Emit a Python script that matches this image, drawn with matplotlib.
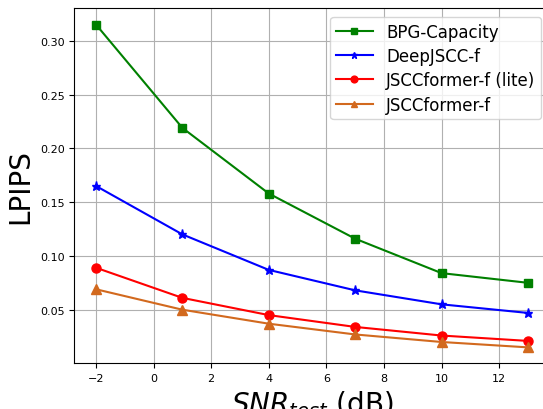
import matplotlib
matplotlib.use("Agg")
import matplotlib.pyplot as plt

snr = [-2, 1, 4, 7, 10, 13]
bpg = [0.315, 0.219, 0.158, 0.116, 0.084, 0.075]
deepjscc = [0.165, 0.120, 0.087, 0.068, 0.055, 0.047]
jsccformer_lite = [0.089, 0.061, 0.045, 0.034, 0.026, 0.021]
jsccformer = [0.069, 0.050, 0.037, 0.027, 0.020, 0.015]

fig = plt.figure(figsize=(5.43, 4.10), dpi=100)
ax = fig.add_axes([0.137, 0.112, 1.012 - 0.137, 0.977 - 0.112])
ax.plot(snr, bpg, color="green", marker="s", lw=1.5, ms=6.3, label="BPG-Capacity")
ax.plot(snr, deepjscc, color="blue", marker="*", lw=1.5, ms=6.5, label="DeepJSCC-f")
ax.plot(snr, jsccformer_lite, color="red", marker="o", lw=1.5, ms=6.5, label="JSCCformer-f (lite)")
ax.plot(snr, jsccformer, color="#D2691E", marker="^", lw=1.5, ms=6.5, label="JSCCformer-f")
ax.grid(True)
ax.set_xlim(-2.75, 13.75)
ax.set_ylim(0.0004, 0.33)
ax.tick_params(labelsize=8)
ax.set_ylabel("LPIPS", fontsize=20)
ax.set_xlabel("$SNR_{test}$ (dB)", fontsize=20)
ax.legend(fontsize=12, loc="upper right", handlelength=2.2, labelspacing=0.38,
          markerscale=0.75, borderpad=0.35)
fig.savefig("out.png")
